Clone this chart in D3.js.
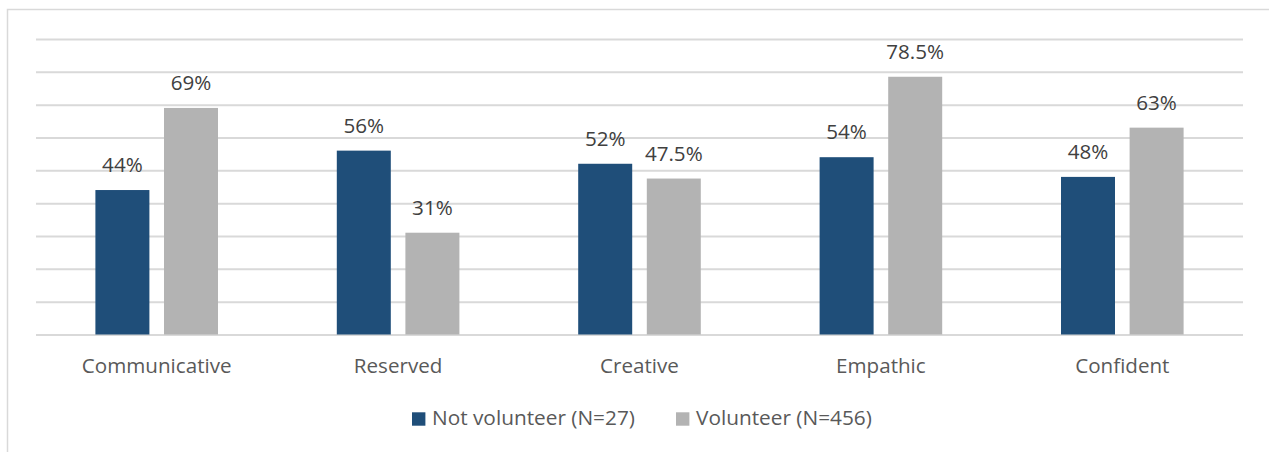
<!DOCTYPE html>
<html>
<head>
<meta charset="utf-8">
<script src="https://cdn.jsdelivr.net/npm/d3@7"></script>
<style>
  html, body { margin: 0; padding: 0; background: #fff; }
  svg { display: block; font-family: "Open Sans", sans-serif; }
</style>
</head>
<body>
<svg id="chart" width="1269" height="452"></svg>
<script>
// Personality traits by volunteering status (percent)
const categories = ["Communicative", "Reserved", "Creative", "Empathic", "Confident"];
const seriesNames = ["Not volunteer (N=27)", "Volunteer (N=456)"];
const notVolunteer = [44, 56, 52, 54, 48];
const volunteer = [69, 31, 47.5, 78.5, 63];
const valueLabels = [
  ["44%", "56%", "52%", "54%", "48%"],
  ["69%", "31%", "47.5%", "78.5%", "63%"]
];
const yTicks = [0, 10, 20, 30, 40, 50, 60, 70, 80, 90];

const colors = ["#1F4E79", "#B3B3B3"];
const series = [notVolunteer, volunteer];

const svg = d3.select("#chart");
const width = 1269, height = 452;

// outer chart frame
svg.append("rect")
  .attr("x", 7.5).attr("y", 9.5)
  .attr("width", width + 10).attr("height", height + 10)
  .attr("fill", "#fff").attr("stroke", "#D9D9D9").attr("stroke-width", 1.5);

const plot = { left: 36, right: 1243, top: 39, bottom: 334.5 };

const x = d3.scaleBand().domain(categories).range([plot.left, plot.right]).padding(0);
const y = d3.scaleLinear().domain([0, 90]).range([plot.bottom, plot.top]);

// horizontal gridlines
const grid = d3.axisLeft(y).tickValues(yTicks).tickSize(-(plot.right - plot.left)).tickFormat("");
svg.append("g")
  .attr("transform", `translate(${plot.left},0)`)
  .call(grid)
  .call(g => g.select(".domain").remove())
  .call(g => g.selectAll("line").attr("stroke", "#D9D9D9").attr("stroke-width", 2));

// bar positions inside each category band
const barW = x.bandwidth() * 0.2237;
const gap = 14.6;
const offsets = [x.bandwidth() / 2 - gap / 2 - barW, x.bandwidth() / 2 + gap / 2];

series.forEach((vals, s) => {
  const g = svg.append("g");
  g.selectAll("rect")
    .data(vals)
    .join("rect")
    .attr("x", (d, i) => x(categories[i]) + offsets[s])
    .attr("y", d => y(d))
    .attr("width", barW)
    .attr("height", d => y(0) - y(d))
    .attr("fill", colors[s]);
  g.selectAll("text")
    .data(vals)
    .join("text")
    .attr("x", (d, i) => x(categories[i]) + offsets[s] + barW / 2)
    .attr("y", d => y(d) - 18)
    .attr("text-anchor", "middle")
    .attr("font-size", 20.6)
    .attr("fill", "#404040")
    .text((d, i) => valueLabels[s][i]);
});

// category axis
const xAxis = d3.axisBottom(x).tickSize(0).tickPadding(0);
svg.append("g")
  .attr("transform", `translate(0,${plot.bottom})`)
  .call(xAxis)
  .call(g => g.select(".domain").remove())
  .call(g => g.selectAll("text")
    .attr("dy", null)
    .attr("y", 38.8)
    .attr("font-size", 20.6)
    .attr("font-family", "Open Sans, sans-serif")
    .attr("fill", "#595959"));

// legend
const legendItems = [
  { name: seriesNames[0], color: colors[0], x: 412 },
  { name: seriesNames[1], color: colors[1], x: 676 }
];
const lg = svg.append("g");
legendItems.forEach(it => {
  lg.append("rect")
    .attr("x", it.x).attr("y", 412.3)
    .attr("width", 13.4).attr("height", 13.4)
    .attr("fill", it.color);
  lg.append("text")
    .attr("x", it.x + 20)
    .attr("y", 425)
    .attr("font-size", 20.8)
    .attr("fill", "#595959")
    .text(it.name);
});
</script>
</body>
</html>
